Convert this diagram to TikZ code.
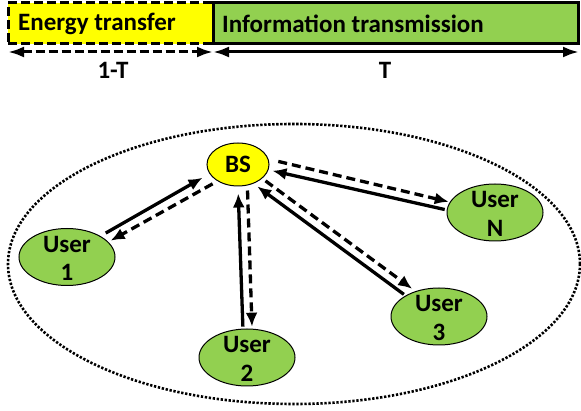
\documentclass[tikz,border=0pt]{standalone}
\usepackage{fontspec}
\setmainfont{Carlito}
\usetikzlibrary{arrows.meta,shapes.geometric}
\definecolor{ybox}{HTML}{FFFF00}
\definecolor{gbox}{HTML}{92D050}
\begin{document}
\begin{tikzpicture}[x=1pt,y=-1pt,
  txt/.style={font=\fontsize{25}{28.5}\selectfont\bfseries},
  usr/.style={ellipse, draw=black, line width=1pt, fill=gbox, minimum width=96pt, minimum height=57pt, inner sep=0pt},
  bsnode/.style={ellipse, draw=black, line width=1pt, fill=ybox, minimum width=62pt, minimum height=43pt, inner sep=0pt, txt},
  usrtxt/.style={txt, align=center, inner sep=0pt},
  boxtxt/.style={txt, anchor=west, inner sep=0pt},
  framebox/.style={draw=black, line width=3pt, minimum height=41pt, inner sep=0pt},
  tip/.style={-{Latex[length=14pt,width=12pt]}},
  sarr/.style={tip, line width=3.3pt},
  darr/.style={tip, line width=3.3pt, dash pattern=on 9pt off 5pt},
  toptip/.style={{Latex[length=16pt,width=11pt]}-{Latex[length=16pt,width=11pt]}},
  cell/.style={ellipse, draw=black, line width=2.6pt, dash pattern=on 2.3pt off 1.7pt, minimum width=572pt, minimum height=280pt, inner sep=0pt}
]
\useasboundingbox (0,0) rectangle (581,411);

% time frame
\node[framebox, dash pattern=on 9pt off 4pt, fill=ybox, minimum width=205pt] (et) at (110.5,23.5) {};
\node[framebox, fill=gbox, minimum width=365pt] (it) at (395.5,23.5) {};
\node[boxtxt] (ett) at (18,24) {Energy transfer};
\node[boxtxt] (itt) at (222,24) {Information transmission};
\coordinate (l0) at (8,52);
\coordinate (l1) at (213,52);
\coordinate (l2) at (579,52);
\draw[toptip, line width=3pt, dash pattern=on 9pt off 4pt] (l0) -- (l1);
\draw[toptip, line width=3pt] (l1) -- (l2);
\node[txt] (lt1) at (113,70) {1-T};
\node[txt] (lt2) at (385,70) {T};

% cell
\node[cell] (cellb) at (294,264) {};

% nodes
\node[bsnode] (bs) at (238,164.5) {BS};
\node[usr] (u1) at (67,257) {};
\node[usrtxt] (u1t) at (67,258.5) {User\\1};
\node[usr] (un) at (495,212.5) {};
\node[usrtxt] (unt) at (495,214) {User\\N};
\node[usr] (u2) at (247,357.5) {};
\node[usrtxt] (u2t) at (247,359) {User\\2};
\node[usr] (u3) at (439,316.5) {};
\node[usrtxt] (u3t) at (439,318) {User\\3};

% links
\draw[sarr, shorten <=6pt, shorten >=8pt] (u1.32) -- (bs.198);
\draw[darr, shorten <=5.5pt, shorten >=2.5pt] (bs.219) -- (u1.20);
\draw[darr, shorten <=10pt, shorten >=1pt] (bs.10) -- (un.167);
\draw[sarr, shorten <=2pt, shorten >=4pt] (un.177) -- (bs.350);
\draw[sarr, shorten <=2pt, shorten >=7pt] (u2.98) -- (bs.270);
\draw[darr, shorten <=5pt, shorten >=2pt] (bs.294) -- (u2.80);
\draw[sarr, shorten <=2pt, shorten >=4.7pt] (u3.148) -- (bs.309);
\draw[darr, shorten <=4pt, shorten >=4pt] (bs.330) -- (u3.133);
\end{tikzpicture}
\end{document}
